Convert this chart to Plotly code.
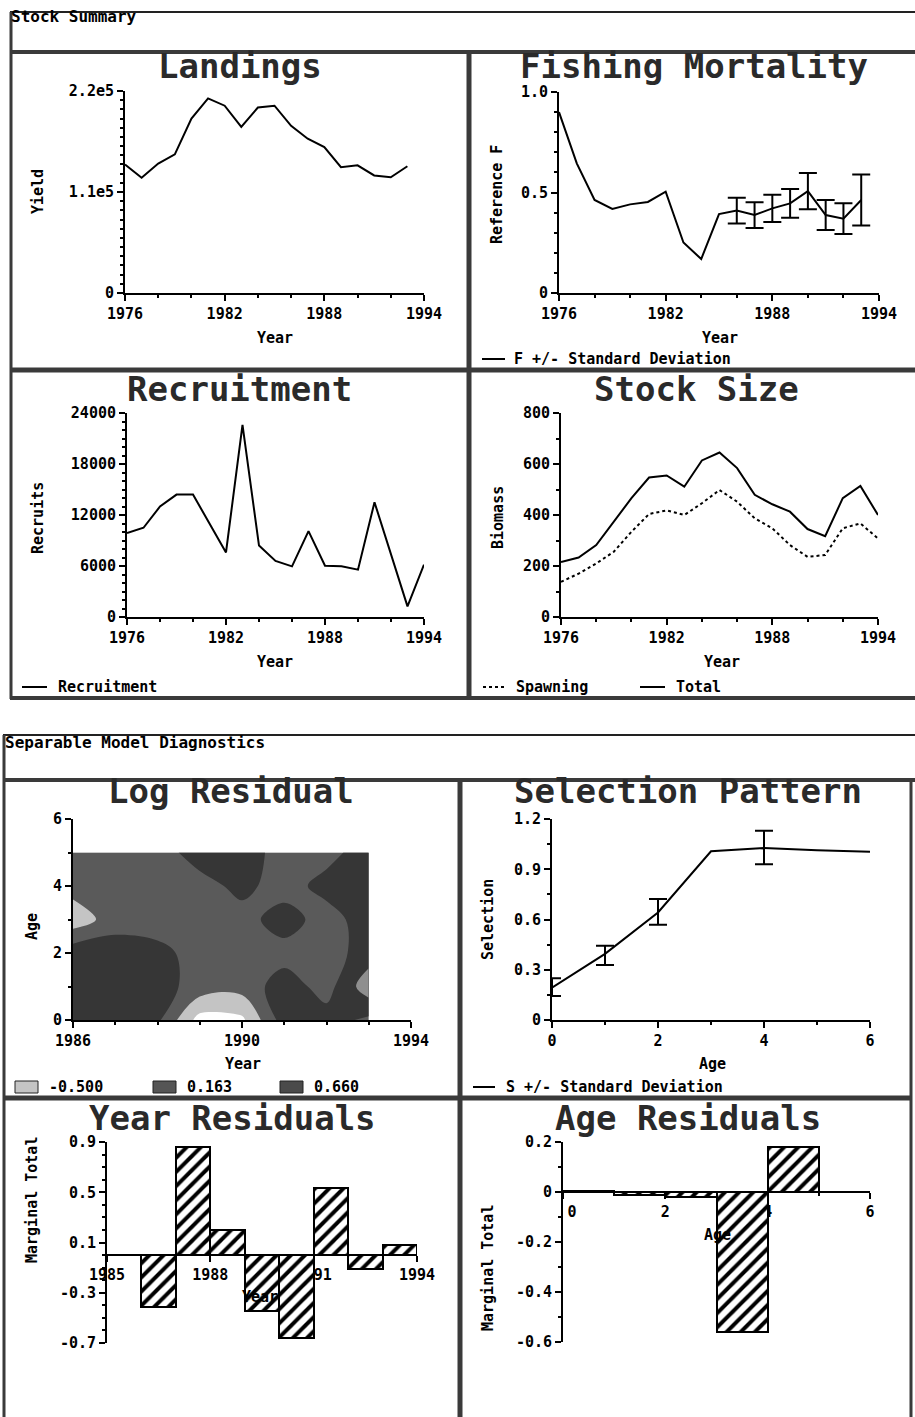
import plotly.graph_objects as go

W, H = 915, 1417
FONT = "DejaVu Sans Mono"

# ---------------- data ----------------
years_land = list(range(1976, 1994))
landings = [140000, 125500, 141000, 151000, 190000, 212000, 204000, 181000, 202000,
            204000, 182000, 168000, 159000, 137000, 139000, 128000, 126000, 138000]

years_f = list(range(1976, 1994))
fishing_f = [0.90, 0.645, 0.463, 0.418, 0.441, 0.453, 0.504, 0.251, 0.169, 0.393,
             0.41, 0.388, 0.421, 0.446, 0.507, 0.388, 0.37, 0.463]
f_sd_years = list(range(1986, 1994))
f_sd = [0.064, 0.064, 0.068, 0.072, 0.09, 0.075, 0.077, 0.127]

years_rec = list(range(1976, 1995))
recruits = [9880, 10500, 13000, 14400, 14400, 11060, 7600, 22600, 8400, 6600,
            5960, 10100, 6040, 5960, 5570, 13500, 7500, 1250, 6160]

years_stock = list(range(1976, 1995))
total_biomass = [216, 233, 282, 374, 466, 547, 555, 511, 614, 645, 584, 479, 442,
                 413, 345, 317, 466, 514, 400]
spawning_biomass = [138, 170, 210, 256, 334, 404, 418, 400, 446, 498, 452, 387, 348,
                    282, 236, 243, 348, 367, 308]

resid_years = list(range(1986, 1994))
resid_ages = [0, 1, 2, 3, 4, 5]
log_resid = [
    [0.2, 0.3, 0.1, -1.2, -1.1, 0.25, 0.2, -0.1],
    [0.3, 0.3, 0.2, -0.2, -0.3, 0.25, -0.2, 0.8],
    [0.3, 0.3, 0.15, -0.2, -0.25, -0.2, -0.25, 0.25],
    [-0.8, -0.25, -0.25, -0.25, -0.2, 0.25, -0.25, 0.3],
    [-0.3, -0.3, -0.3, -0.2, 0.15, -0.25, 0.2, 0.3],
    [-0.3, -0.3, -0.25, 0.25, 0.3, -0.25, -0.2, 0.3],
]
contour_labels = ["-0.500", "0.163", "0.660"]

sel_ages = [0, 1, 2, 3, 4, 5, 6]
selection = [0.193, 0.395, 0.642, 1.007, 1.027, 1.013, 1.005]
sel_sd_ages = [0, 1, 2, 4]
sel_sd_center = [0.197, 0.386, 0.645, 1.03]
sel_sd = [0.053, 0.057, 0.077, 0.1]

year_res_years = [1986.5, 1987.5, 1988.5, 1989.5, 1990.5, 1991.5, 1992.5, 1993.5]
year_resid = [-0.41, 0.86, 0.20, -0.445, -0.66, 0.535, -0.11, 0.08]

age_res_ages = [0.5, 1.5, 2.5, 3.5, 4.5]
age_resid = [0.004, -0.012, -0.02, -0.559, 0.18]

# ---------------- layout geometry (pixels) ----------------
panels = {
    1: dict(x=(125, 424), y=(91, 293)),
    2: dict(x=(559, 879), y=(92, 293)),
    3: dict(x=(127, 424), y=(413, 617)),
    4: dict(x=(561, 878), y=(413, 617)),
    5: dict(x=(73, 411), y=(819, 1020)),
    6: dict(x=(552, 870), y=(819, 1020)),
    7: dict(x=(107, 417), y=(1142, 1343)),
    8: dict(x=(563, 870), y=(1142, 1342)),
}

fig = go.Figure()
layout = {}


def minor(tick0, dtick):
    return dict(ticks="outside", ticklen=3, tickwidth=1.5, tickcolor="black",
                tickmode="linear", tick0=tick0, dtick=dtick, showgrid=False)


def set_axes(i, xr, yr, xt, yt, xtext=None, ytext=None, xminor=None, yminor=None,
             xfree_zero=False):
    s = "" if i == 1 else str(i)
    p = panels[i]
    xdom = [p["x"][0] / W, p["x"][1] / W]
    ydom = [1 - p["y"][1] / H, 1 - p["y"][0] / H]
    common = dict(showline=True, linecolor="black", linewidth=2, ticks="outside",
                  ticklen=6, tickwidth=2, tickcolor="black", showgrid=False,
                  zeroline=False, tickmode="array", fixedrange=True, automargin=False,
                  tickfont=dict(family=FONT, size=15, color="black", weight="bold"))
    xa = dict(common, domain=xdom, range=xr, tickvals=xt,
              ticktext=xtext or [str(v) for v in xt], anchor="y" + s)
    ya = dict(common, domain=ydom, range=yr, tickvals=yt,
              ticktext=ytext or [str(v) for v in yt], anchor="x" + s)
    if xminor:
        xa["minor"] = minor(*xminor)
    if yminor:
        ya["minor"] = minor(*yminor)
    if xfree_zero:
        xa["anchor"] = "free"
        xa["position"] = ydom[0] + (0 - yr[0]) / (yr[1] - yr[0]) * (ydom[1] - ydom[0])
        xa["layer"] = "below traces"
    layout["xaxis" + s] = xa
    layout["yaxis" + s] = ya


set_axes(1, [1976, 1994], [0, 220000], [1976, 1982, 1988, 1994], [0, 110000, 220000],
         ytext=["0", "1.1e5", "2.2e5"], xminor=(1976, 2), yminor=(0, 10000))
set_axes(2, [1976, 1994], [0, 1.0], [1976, 1982, 1988, 1994], [0, 0.5, 1.0],
         ytext=["0", "0.5", "1.0"], xminor=(1976, 2), yminor=(0, 0.1))
set_axes(3, [1976, 1994], [0, 24000], [1976, 1982, 1988, 1994],
         [0, 6000, 12000, 18000, 24000], xminor=(1976, 2), yminor=(0, 1000))
set_axes(4, [1976, 1994], [0, 800], [1976, 1982, 1988, 1994], [0, 200, 400, 600, 800],
         xminor=(1976, 2), yminor=(0, 100))
set_axes(5, [1986, 1994], [0, 6], [1986, 1990, 1994], [0, 2, 4, 6],
         xminor=(1986, 1), yminor=(0, 1))
set_axes(6, [0, 6], [0, 1.2], [0, 2, 4, 6], [0, 0.3, 0.6, 0.9, 1.2],
         ytext=["0", "0.3", "0.6", "0.9", "1.2"], xminor=(0, 1), yminor=(0, 0.15))
set_axes(7, [1985, 1994], [-0.7, 0.9], [1985, 1988, 1991, 1994],
         [0.9, 0.5, 0.1, -0.3, -0.7], ytext=["0.9", "0.5", "0.1", "-0.3", "-0.7"],
         xminor=(1985, 1), yminor=(-0.7, 0.1), xfree_zero=True)
set_axes(8, [0, 6], [-0.6, 0.2], [0, 2, 4, 6], [0.2, 0, -0.2, -0.4, -0.6],
         xtext=["\u00a0\u00a00", "2", "4", "6"],
         ytext=["0.2", "0", "-0.2", "-0.4", "-0.6"],
         xminor=(0, 1), yminor=(-0.6, 0.1), xfree_zero=True)

LINE = dict(color="black", width=2)

# Landings
fig.add_trace(go.Scatter(x=years_land, y=landings, mode="lines", line=LINE,
                         xaxis="x", yaxis="y"))
# Fishing mortality
fig.add_trace(go.Scatter(x=years_f, y=fishing_f, mode="lines", line=LINE,
                         xaxis="x2", yaxis="y2"))
fig.add_trace(go.Scatter(x=f_sd_years,
                         y=[fishing_f[years_f.index(v)] for v in f_sd_years],
                         mode="markers", marker=dict(size=1, color="rgba(0,0,0,0)"),
                         error_y=dict(type="data", array=f_sd, color="black",
                                      thickness=2, width=9),
                         xaxis="x2", yaxis="y2"))
# Recruitment
fig.add_trace(go.Scatter(x=years_rec, y=recruits, mode="lines", line=LINE,
                         xaxis="x3", yaxis="y3"))
# Stock size
fig.add_trace(go.Scatter(x=years_stock, y=total_biomass, mode="lines", line=LINE,
                         xaxis="x4", yaxis="y4"))
fig.add_trace(go.Scatter(x=years_stock, y=spawning_biomass, mode="lines",
                         line=dict(color="black", width=2, dash="dot"),
                         xaxis="x4", yaxis="y4"))
# Log residual contour
C_WHITE, C_LIGHT, C_DOT, C_DARK, C_HATCH = "#ffffff", "#c4c4c4", "#5a5a5a", "#363636", "#8f8f8f"
fig.add_trace(go.Contour(x=resid_years, y=resid_ages, z=log_resid,
                         autocontour=False,
                         contours=dict(start=-1.0, end=0.5, size=0.5, coloring="fill",
                                       showlines=False),
                         colorscale=[[0, C_WHITE], [0.25, C_LIGHT], [0.5, C_DOT],
                                     [0.75, C_DARK], [1, C_HATCH]],
                         line=dict(width=0), showscale=False,
                         xaxis="x5", yaxis="y5"))
# Selection pattern
fig.add_trace(go.Scatter(x=sel_ages, y=selection, mode="lines", line=LINE,
                         xaxis="x6", yaxis="y6"))
fig.add_trace(go.Scatter(x=sel_sd_ages, y=sel_sd_center, mode="markers",
                         marker=dict(size=1, color="rgba(0,0,0,0)"),
                         error_y=dict(type="data", array=sel_sd, color="black",
                                      thickness=2, width=9),
                         xaxis="x6", yaxis="y6"))
# Year residuals
PATTERN = dict(shape="/", fgcolor="black", bgcolor="white", size=10, solidity=0.4)
fig.add_trace(go.Bar(x=year_res_years, y=year_resid, width=1,
                     marker=dict(color="white", line=dict(color="black", width=2),
                                 pattern=PATTERN),
                     xaxis="x7", yaxis="y7"))
# Age residuals
fig.add_trace(go.Bar(x=age_res_ages, y=age_resid, width=1,
                     marker=dict(color="white", line=dict(color="black", width=2),
                                 pattern=PATTERN),
                     xaxis="x8", yaxis="y8"))


# ---------------- annotations & frames ----------------
def txt(x, y, s, size, xanchor="center", angle=0, color="black"):
    fig.add_annotation(x=x / W, y=1 - y / H, xref="paper", yref="paper", text=s,
                       showarrow=False, xanchor=xanchor, yanchor="middle",
                       textangle=angle, borderpad=0,
                       font=dict(family=FONT, size=size, color=color, weight="bold"))


def seg(x0, y0, x1, y1, w=4, color="#3a3a3a", dash=None):
    fig.add_shape(type="line", xref="paper", yref="paper", x0=x0 / W, y0=1 - y0 / H,
                  x1=x1 / W, y1=1 - y1 / H, line=dict(color=color, width=w, dash=dash))


def box(x0, y0, x1, y1, fill):
    fig.add_shape(type="rect", xref="paper", yref="paper", x0=x0 / W, y0=1 - y1 / H,
                  x1=x1 / W, y1=1 - y0 / H, fillcolor=fill,
                  line=dict(color="#222", width=1))


TC = "#2a2a2a"
TS = 34
AS = 15   # axis title size
LS = 15   # legend / header size
# headers
txt(10, 17, "Stock Summary", 16, "left")
txt(4, 742, "Separable Model Diagnostics", 16, "left")

# panel titles
txt(240, 66, "Landings", TS, color=TC)
txt(694, 66, "Fishing Mortality", TS, color=TC)
txt(239, 389, "Recruitment", TS, color=TC)
txt(696, 389, "Stock Size", TS, color=TC)
txt(231, 791, "Log Residual", TS, color=TC)
txt(688, 791, "Selection Pattern", TS, color=TC)
txt(232, 1118, "Year Residuals", TS, color=TC)
txt(688, 1118, "Age Residuals", TS, color=TC)

# axis titles
txt(38, 192, "Yield", AS, angle=-90)
txt(275, 338, "Year", AS)
txt(497, 195, "Reference F", AS, angle=-90)
txt(720, 338, "Year", AS)
txt(38, 518, "Recruits", AS, angle=-90)
txt(275, 662, "Year", AS)
txt(498, 518, "Biomass", AS, angle=-90)
txt(722, 662, "Year", AS)
txt(32, 927, "Age", AS, angle=-90)
txt(243, 1064, "Year", AS)
txt(488, 920, "Selection", AS, angle=-90)
txt(712, 1064, "Age", AS)
txt(32, 1200, "Marginal Total", AS, angle=-90)
txt(260, 1297, "Year", AS)
txt(488, 1268, "Marginal Total", AS, angle=-90)
txt(717, 1235, "Age", AS)

# legends
seg(482, 359, 505, 359, w=2, color="black")
txt(513, 359, "F +/- Standard Deviation", LS, "left")
seg(22, 687, 47, 687, w=2, color="black")
txt(57, 687, "Recruitment", LS, "left")
seg(483, 687, 505, 687, w=2, color="black", dash="dot")
txt(515, 687, "Spawning", LS, "left")
seg(640, 687, 665, 687, w=2, color="black")
txt(675, 687, "Total", LS, "left")
box(15, 1081, 38, 1093, C_LIGHT)
txt(48, 1087, contour_labels[0], LS, "left")
box(153, 1081, 176, 1093, "#555555")
txt(186, 1087, contour_labels[1], LS, "left")
box(280, 1081, 303, 1093, "#4a4a4a")
txt(313, 1087, contour_labels[2], LS, "left")
seg(473, 1087, 495, 1087, w=2, color="black")
txt(505, 1087, "S +/- Standard Deviation", LS, "left")

# frames - top section
seg(10, 12, 915, 12, w=2, color="#222")
seg(11, 12, 11, 699, w=3)
seg(10, 52, 915, 52, w=4)
seg(469, 52, 469, 699, w=5)
seg(10, 370, 915, 370, w=5)
seg(10, 698, 915, 698, w=4)
# frames - bottom section
seg(3, 735, 915, 735, w=2, color="#222")
seg(4, 735, 4, 1417, w=3)
seg(3, 780, 915, 780, w=4)
seg(460, 780, 460, 1417, w=5)
seg(911, 780, 911, 1417, w=3)
seg(3, 1098, 912, 1098, w=5)

layout.update(width=W, height=H, margin=dict(l=0, r=0, t=0, b=0, pad=0),
              autosize=False, template="none",
              paper_bgcolor="white", plot_bgcolor="white", showlegend=False,
              bargap=0)
fig.update_layout(**layout)
fig.write_html("out.html", config={"displayModeBar": False},
               post_script="document.body.style.margin='0';"
                           "document.body.style.overflow='hidden';")
